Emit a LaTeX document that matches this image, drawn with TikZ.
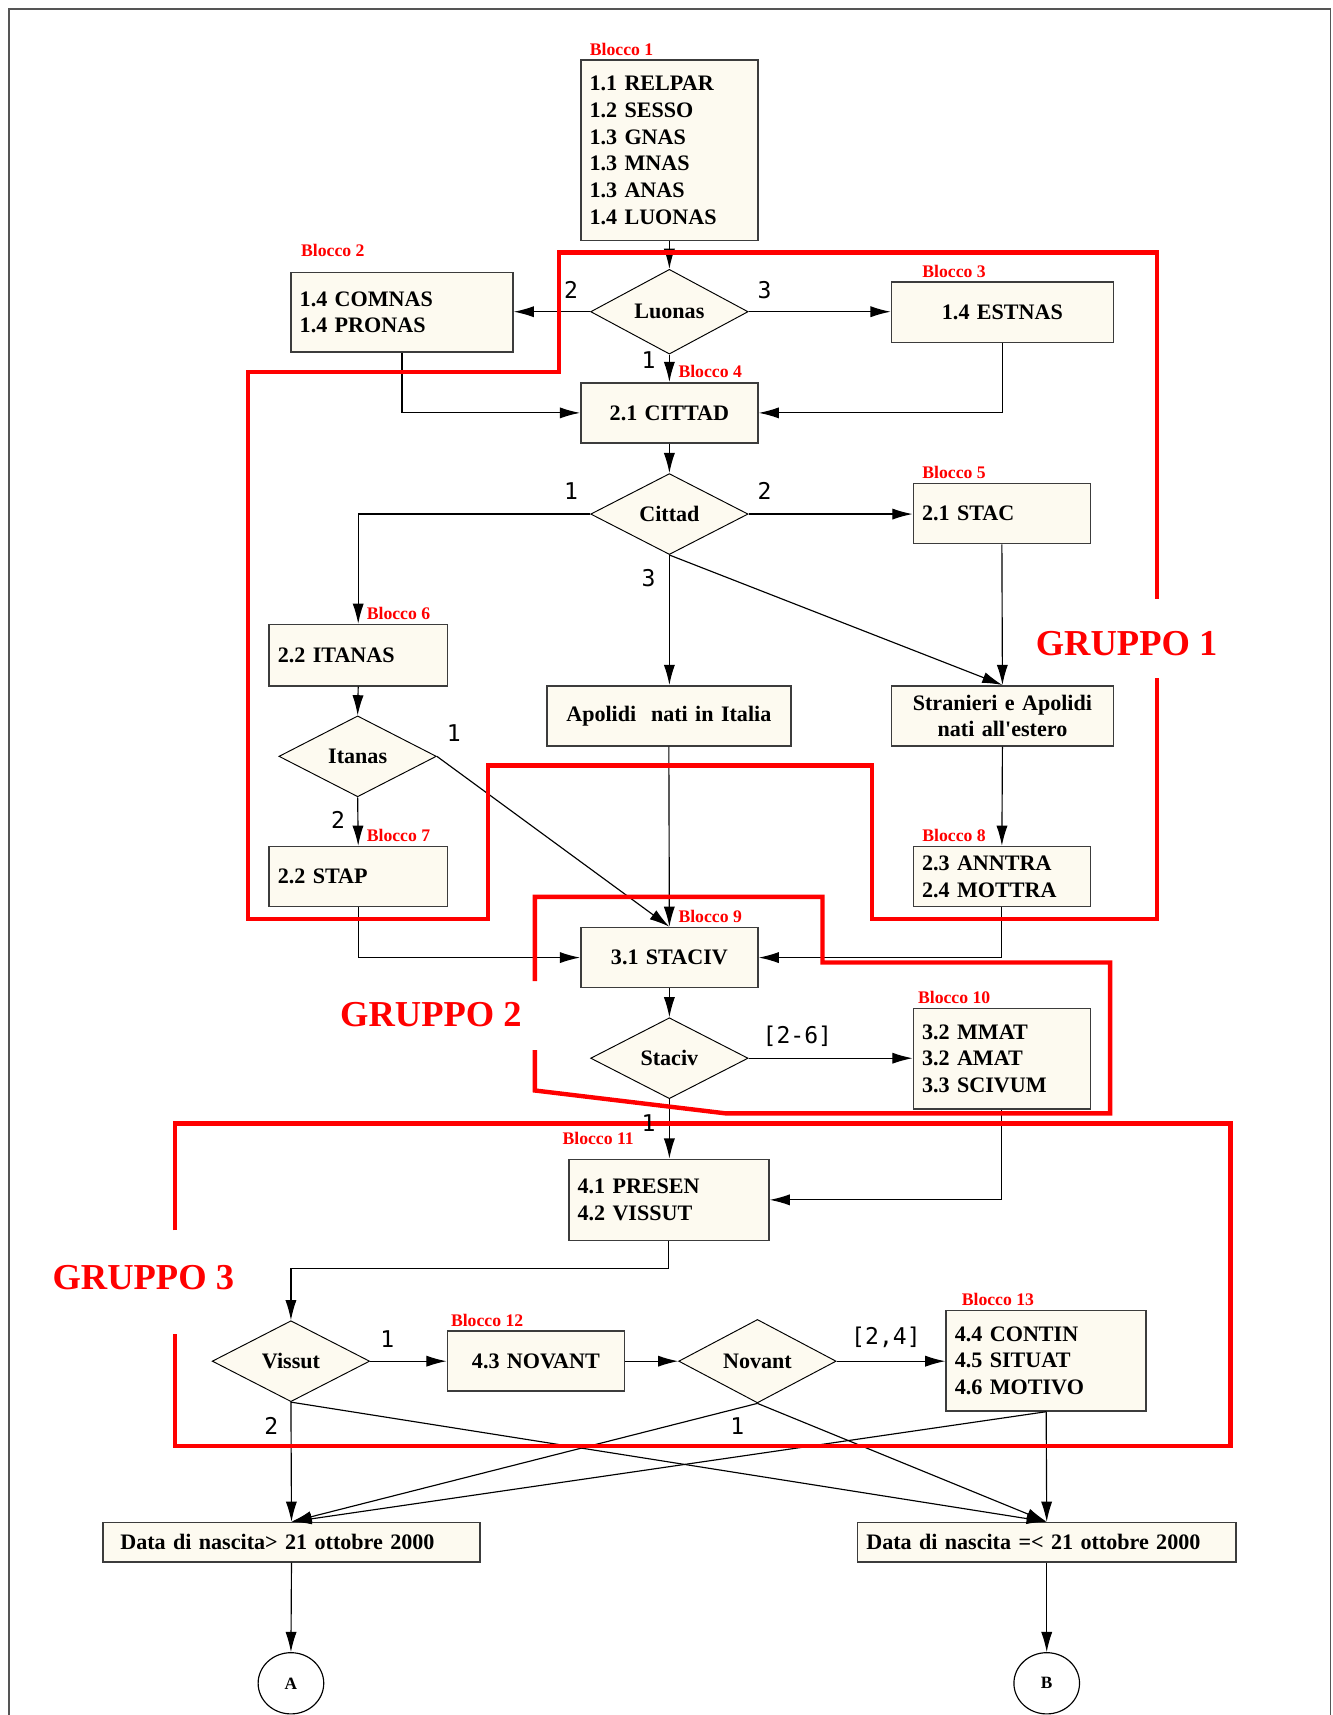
\documentclass[tikz,border=0pt]{standalone}
\usepackage{fontspec}
\setmainfont{Liberation Serif}
\newfontfamily\numfont{DejaVu Sans Mono}
\usetikzlibrary{shapes.geometric,arrows.meta}
\definecolor{cream}{RGB}{253,250,240}
\definecolor{framegray}{RGB}{85,85,85}
\definecolor{boxline}{RGB}{60,60,60}
\tikzset{
        box/.style={draw=boxline, line width=0.8pt, fill=cream, inner xsep=0.16cm, inner ysep=0pt,
          font=\bfseries\fontsize{11.5}{13.9}\selectfont},
        lbox/.style={box, align=left},
        cbox/.style={box, align=center},
        test/.style={diamond, draw=black, line width=0.5pt, fill=cream, inner sep=0pt,
          minimum width=2.88cm, minimum height=1.48cm, font=\bfseries\fontsize{11.5}{13.9}\selectfont},
        terminal/.style={ellipse, draw=black, line width=0.6pt, inner sep=0pt,
          minimum width=1.2cm, minimum height=1.12cm, font=\bfseries\fontsize{9}{10}\selectfont},
        blocco/.style={text=red, anchor=west, inner sep=0pt, font=\bfseries\fontsize{9.2}{10}\selectfont},
        gruppo/.style={text=red, inner sep=0pt, font=\bfseries\fontsize{19}{22}\selectfont},
        num/.style={inner sep=0pt, font=\numfont\fontsize{12}{14}\selectfont},
        flow/.style={draw=black, line width=0.6pt, -{Latex[length=10.5pt,width=5.8pt]}},
        boundary/.style={draw=red, line width=2.3pt},
        framed/.style={draw=framegray, line width=0.9pt}
          }
\begin{document}
\begin{tikzpicture}[x=0.02cm, y=-0.02cm]
        \useasboundingbox (0,0) rectangle (1218,1568);
        \draw[framed] (8,1568) -- (8,8) -- (1216.5,8) -- (1216.5,1568);

        \node[lbox, text width=2.92cm, minimum height=3.30cm] (b1) at (612,137.5)
          {1.1 RELPAR\\1.2 SESSO\\1.3 GNAS\\1.3 MNAS\\1.3 ANAS\\1.4 LUONAS};
        \node[test] (luonas) at (612,285) {Luonas};
        \node[lbox, text width=3.74cm, minimum height=1.46cm] (b2) at (367.5,285.5) {1.4 COMNAS\\1.4 PRONAS};
        \node[cbox, text width=3.74cm, minimum height=1.10cm] (b3) at (916.5,285.5) {1.4 ESTNAS};
        \node[cbox, text width=2.92cm, minimum height=1.10cm] (b4) at (612,377.5) {2.1 CITTAD};
        \node[test] (cittad) at (612,470) {Cittad};
        \node[lbox, text width=2.92cm, minimum height=1.10cm] (b5) at (916,469.5) {2.1 STAC};
        \node[lbox, text width=2.94cm, minimum height=1.12cm] (b6) at (327.5,599) {2.2 ITANAS};
        \node[test] (itanas) at (327,691.5) {Itanas};
        \node[lbox, text width=2.94cm, minimum height=1.10cm] (b7) at (327.5,801.5) {2.2 STAP};
        \node[cbox, text width=4.14cm, minimum height=1.10cm] (ap) at (611.5,654.5) {Apolidi\ \ nati in Italia};
        \node[cbox, text width=3.74cm, minimum height=1.10cm] (st) at (916.5,654.5)
          {Stranieri e Apolidi\\nati all\textquotesingle estero};
        \node[lbox, text width=2.92cm, minimum height=1.10cm] (b8) at (916,801.5) {2.3 ANNTRA\\2.4 MOTTRA};
        \node[cbox, text width=2.92cm, minimum height=1.10cm] (b9) at (612,875.5) {3.1 STACIV};
        \node[test] (staciv) at (612,967.5) {Staciv};
        \node[lbox, text width=2.92cm, minimum height=1.84cm] (b10) at (916,968) {3.2 MMAT\\3.2 AMAT\\3.3 SCIVUM};
        \node[lbox, text width=3.34cm, minimum height=1.48cm] (b11) at (611.5,1097) {4.1 PRESEN\\4.2 VISSUT};
        \node[test] (vissut) at (266,1244.5) {Vissut};
        \node[cbox, text width=2.92cm, minimum height=1.10cm] (b12) at (490,1244.5) {4.3 NOVANT};
        \node[test] (novant) at (692.5,1244.5) {Novant};
        \node[lbox, text width=3.34cm, minimum height=1.84cm] (b13) at (956.5,1244) {4.4 CONTIN\\4.5 SITUAT\\4.6 MOTIVO};
        \node[lbox, inner xsep=0.32cm, text width=6.26cm, minimum height=0.72cm] (d1) at (266.5,1410)
          {Data di nascita> 21 ottobre 2000};
        \node[lbox, text width=6.60cm, minimum height=0.72cm] (d2) at (957,1410)
          {Data di nascita =< 21 ottobre 2000};
        \node[terminal] (ca) at (266,1539) {A};
        \node[terminal] (cb) at (957,1539) {B};

        \draw[flow] (b1) -- (luonas);
        \draw[flow] (luonas.west) -- (b2.east |- luonas.west);
        \draw[flow] (luonas.east) -- (b3.west |- luonas.east);
        \draw[flow] (luonas.south) -- (b4.north);
        \draw[flow] (b2.south) |- (b4.west);
        \draw[flow] (b3.south) |- (b4.east);
        \draw[flow] (b4.south) -- (cittad.north);
        \draw[flow] (cittad.west) -| (b6.north);
        \draw[flow] (cittad.east) -- (b5.west |- cittad.east);
        \draw[flow] (cittad.south) -- (cittad.south |- ap.north);
        \draw[flow] (cittad.south) -- (st.north);
        \draw[flow] (b5.south) -- (st.north);
        \draw[flow] (b6.south) -- (itanas.north);
        \draw[flow] (itanas.south) -- (b7.north);
        \draw[flow] (itanas.east) -- (b9.north);
        \draw[flow] (ap.south) -- (b9.north);
        \draw[flow] (st.south) -- (b8.north);
        \draw[flow] (b7.south) |- (b9.west);
        \draw[flow] (b8.south) |- (b9.east);
        \draw[flow] (b9.south) -- (staciv.north);
        \draw[flow] (staciv.east) -- (b10.west |- staciv.east);
        \draw[flow] (staciv.south) -- (staciv.south |- b11.north);
        \draw[flow] (b10.south) |- (b11.east);
        \draw[flow] (b11.south) -- ++(0,25) -| (vissut.north);
        \draw[flow] (vissut.east) -- (b12.west);
        \draw[flow] (b12.east) -- (novant.west);
        \draw[flow] (novant.east) -- (b13.west |- novant.east);
        \draw[flow] (vissut.south) -- (d1.north);
        \draw[flow] (vissut.south) -- (d2.north);
        \draw[flow] (novant.south) -- (d1.north);
        \draw[flow] (novant.south) -- (d2.north);
        \draw[flow] (b13.south) -- (d2.north);
        \draw[flow] (b13.south) -- (d1.north);
        \draw[flow] (d1.south) -- (ca.north);
        \draw[flow] (d2.south) -- (cb.north);

        \draw[boundary] (1058,620) -- (1058,840) -- (797,840) -- (797,700) -- (446,700) -- (446,840)
          -- (227,840) -- (227,340) -- (511,340) -- (511,231) -- (1058,231) -- (1058,548);
        \draw[boundary] (489,897) -- (489,820) -- (752,820) -- (752,880) -- (1015,880) -- (1015,1018)
          -- (664,1018) -- (489,997) -- (489,960);
        \draw[boundary] (160,1125) -- (160,1027) -- (1125,1027) -- (1125,1322) -- (160,1322) -- (160,1220);

        \node[blocco] (lb1) at (539,45) {Blocco 1};
        \node[blocco] (lb2) at (275,229) {Blocco 2};
        \node[blocco] (lb3) at (843,248) {Blocco 3};
        \node[blocco] (lb4) at (620,340) {Blocco 4};
        \node[blocco] (lb5) at (843,432) {Blocco 5};
        \node[blocco] (lb6) at (335,561) {Blocco 6};
        \node[blocco] (lb7) at (335,764) {Blocco 7};
        \node[blocco] (lb8) at (843,764) {Blocco 8};
        \node[blocco] (lb9) at (620,838) {Blocco 9};
        \node[blocco] (lb10) at (839,912) {Blocco 10};
        \node[blocco] (lb11) at (514,1041) {Blocco 11};
        \node[blocco] (lb12) at (412,1207) {Blocco 12};
        \node[blocco] (lb13) at (879,1188) {Blocco 13};

        \node[gruppo] (g1) at (1030,588) {GRUPPO 1};
        \node[gruppo] (g2) at (394,928) {GRUPPO 2};
        \node[gruppo] (g3) at (131,1168) {GRUPPO 3};

        \node[num] (n1) at (522,265) {2};
        \node[num] (n2) at (699,265) {3};
        \node[num] (n3) at (593,329) {1};
        \node[num] (n4) at (522,449) {1};
        \node[num] (n5) at (699,449) {2};
        \node[num] (n6) at (593,529) {3};
        \node[num] (n7) at (415,670) {1};
        \node[num] (n8) at (309,750) {2};
        \node[num] (n9) at (729,947) {[2-6]};
        \node[num] (n10) at (593,1027) {1};
        \node[num] (n11) at (354,1224) {1};
        \node[num] (n12) at (248,1304) {2};
        \node[num] (n13) at (810,1223) {[2,4]};
        \node[num] (n14) at (674,1304) {1};
\end{tikzpicture}
\end{document}
